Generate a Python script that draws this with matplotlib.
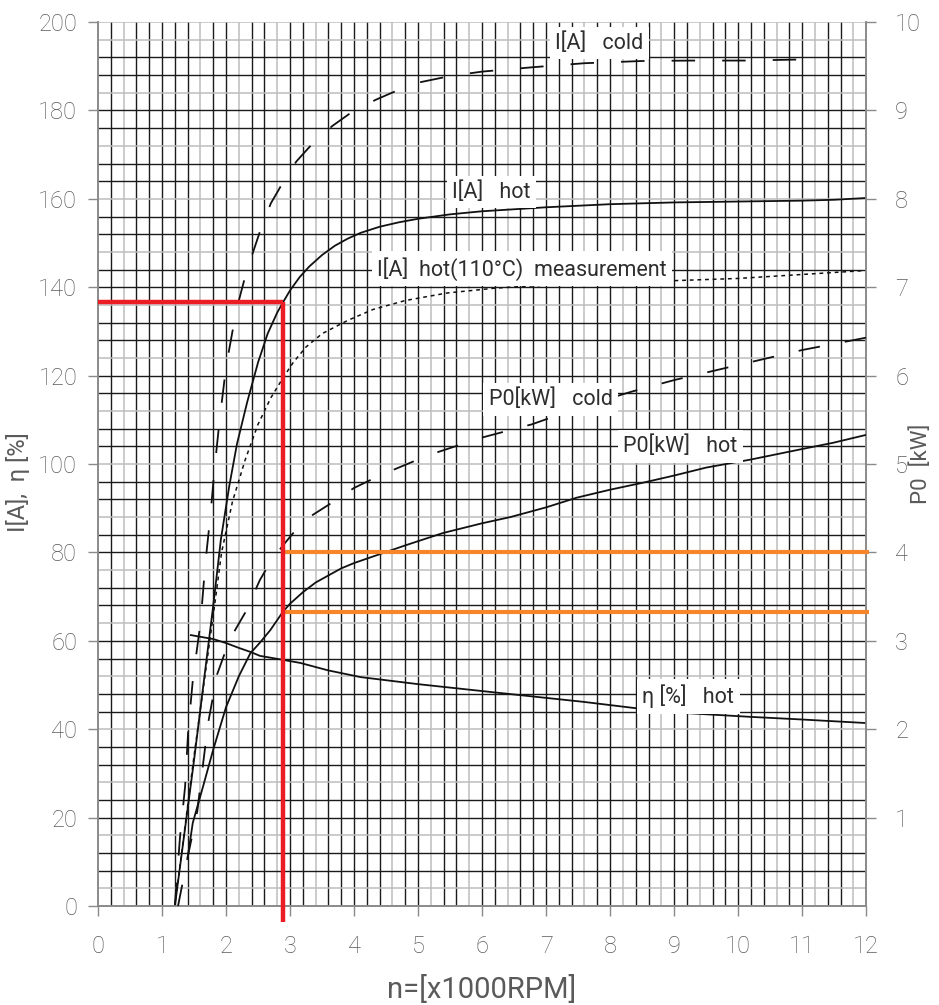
import numpy as np
import matplotlib
matplotlib.use("Agg")
import matplotlib.pyplot as plt

# ---------------- data ----------------
# I[A] cold (dashed)
i_cold_x = [1.20, 1.28, 1.36, 1.41, 1.48, 1.60, 1.68, 1.76, 1.82, 1.90, 2.00, 2.10, 2.20, 2.30, 2.40, 2.55, 2.70, 2.90, 3.10, 3.35, 3.66, 4.00, 4.35, 4.70, 5.00, 5.50, 6.00, 6.80, 7.60, 8.50, 9.30, 10.10, 11.20]
i_cold_y = [0.0, 15.5, 27.0, 40.0, 51.0, 64.0, 78.0, 89.0, 99.0, 110.0, 122.0, 130.0, 137.0, 142.5, 147.0, 153.5, 159.0, 164.0, 168.5, 172.5, 176.5, 180.0, 182.5, 184.7, 186.3, 187.8, 188.8, 189.8, 190.7, 191.2, 191.3, 191.3, 191.6]
# I[A] hot (solid)
i_hot_x = [1.20, 1.50, 1.80, 1.92, 2.05, 2.17, 2.33, 2.50, 2.65, 2.80, 2.89, 3.00, 3.15, 3.30, 3.50, 3.70, 3.90, 4.10, 4.40, 4.70, 5.00, 5.50, 6.00, 7.00, 8.00, 9.00, 10.00, 11.00, 11.50, 12.00]
i_hot_y = [0.0, 33.0, 68.0, 83.0, 95.0, 104.5, 114.0, 123.0, 129.5, 134.3, 136.6, 139.3, 142.3, 144.7, 147.3, 149.4, 151.0, 152.3, 153.7, 154.7, 155.5, 156.5, 157.2, 158.1, 158.8, 159.2, 159.4, 159.6, 159.8, 160.2]
# I[A] hot(110°C) measurement (dotted)
i_meas_x = [1.20, 1.50, 1.83, 1.93, 2.10, 2.30, 2.50, 2.70, 2.89, 3.05, 3.25, 3.50, 3.90, 4.30, 4.80, 5.45, 6.20, 7.00, 8.00, 9.00, 10.00, 11.00, 12.00]
i_meas_y = [0.0, 34.0, 69.0, 80.0, 91.5, 101.0, 109.0, 115.0, 119.5, 123.0, 126.5, 129.5, 132.5, 135.0, 137.0, 138.7, 139.8, 140.5, 141.0, 141.5, 142.0, 142.9, 143.8]
# P0[kW] cold (dashed, right axis)
p_cold_x = [1.25, 1.40, 1.55, 1.72, 1.86, 2.00, 2.14, 2.30, 2.53, 2.70, 2.89, 3.05, 3.30, 3.67, 4.00, 4.40, 5.16, 6.00, 6.78, 7.56, 8.34, 9.00, 10.00, 11.00, 12.00]
p_cold_kw = [0.00, 0.55, 1.07, 2.07, 2.62, 2.90, 3.12, 3.32, 3.69, 3.90, 4.08, 4.22, 4.40, 4.57, 4.73, 4.87, 5.10, 5.30, 5.45, 5.65, 5.82, 5.95, 6.12, 6.29, 6.43]
# P0[kW] hot (solid, right axis)
p_hot_x = [1.40, 1.48, 1.64, 1.80, 2.00, 2.20, 2.38, 2.53, 2.69, 2.89, 3.00, 3.20, 3.40, 3.60, 3.80, 4.00, 4.36, 4.80, 5.39, 6.00, 6.44, 7.00, 7.48, 8.00, 8.52, 9.00, 9.50, 10.19, 11.00, 11.48, 12.00]
p_hot_kw = [0.55, 0.94, 1.35, 1.77, 2.25, 2.60, 2.86, 2.98, 3.12, 3.33, 3.42, 3.55, 3.66, 3.74, 3.82, 3.88, 3.97, 4.08, 4.22, 4.33, 4.40, 4.51, 4.62, 4.71, 4.79, 4.87, 4.96, 5.05, 5.17, 5.24, 5.33]
# eta [%] hot (solid)
eta_x = [1.45, 1.80, 2.00, 2.20, 2.38, 2.53, 2.89, 3.16, 3.60, 4.10, 5.00, 6.28, 7.58, 8.89, 10.19, 11.00, 12.00]
eta_y = [61.3, 60.4, 59.5, 58.4, 57.5, 56.6, 55.7, 55.0, 53.3, 51.8, 50.2, 48.2, 46.2, 43.9, 42.8, 42.2, 41.4]

# operating point markers
op_speed = 2.89
op_current = 136.6
op_power_kw = [4.0, 3.33]

x_ticks = list(range(0, 13))
y_ticks = list(range(0, 201, 20))
p_ticks = list(range(1, 11))

curve_labels = [
    ("I[A]   cold", 7.83, 195.3),
    ("I[A]   hot", 6.15, 161.6),
    ("I[A]  hot(110°C)  measurement", 6.62, 144.2),
    ("P0[kW]   cold", 7.07, 114.6),
    ("P0[kW]   hot", 9.10, 104.0),
    ("η [%]   hot", 9.22, 47.4),
]

# ---------------- drawing ----------------
FONT = ['Roboto', 'DejaVu Sans']
plt.rcParams['font.family'] = FONT
plt.rcParams['font.weight'] = 'light'
TXT = '#5a5a5a'

fig = plt.figure(figsize=(9.39, 10.05), dpi=100)
ax = fig.add_axes([0.1044, 0.0985, 0.8180, 0.8795])
ax.set_xlim(0, 12)
ax.set_ylim(0, 200)

# millimetre-paper style grid
vx = np.arange(0.2, 12.0, 0.2)
for k, xv in enumerate(vx):
    light = (k % 3 == 1) and (abs(xv - round(xv)) > 1e-6)
    ax.axvline(xv, color='#bdbdbd' if light else '#1a1a1a',
               lw=1.1 if light else 1.0, zorder=0.5)
hy = np.arange(4, 200, 4)
for k, yv in enumerate(hy):
    light = (k % 3 == 0)
    ax.axhline(yv, color='#bdbdbd' if light else '#1a1a1a',
               lw=1.1 if light else 1.0, zorder=0.5)
ax.axhline(200, color='#bdbdbd', lw=1.1, zorder=0.5)

for s in ['left', 'bottom', 'top', 'right']:
    ax.spines[s].set_color('#8a8a8a')
    ax.spines[s].set_linewidth(1.2)
ax.spines['top'].set_visible(False)

lw = 1.3
ax.plot(i_cold_x, i_cold_y, color='#111111', lw=lw, ls=(0, (13, 15)), zorder=3)
ax.plot(i_hot_x, i_hot_y, color='#111111', lw=lw, zorder=3)
ax.plot(i_meas_x, i_meas_y, color='#111111', lw=1.1, ls=(0, (2.5, 2.5)), zorder=3)
ax.plot(eta_x, eta_y, color='#111111', lw=lw, zorder=3)

ax.set_xticks(x_ticks)
ax.set_yticks(y_ticks)
ax.tick_params(axis='both', direction='out', length=7, width=1.0, color='#8a8a8a',
               labelsize=17, labelcolor=TXT, pad=8)
ax.tick_params(axis='x', pad=14)
ax.set_xlabel('n=[x1000RPM]', fontsize=21, color=TXT)
ax.xaxis.set_label_coords(0.5, -0.078)
ax.set_ylabel('I[A],  η [%]', fontsize=17, color=TXT)
ax.yaxis.set_label_coords(-0.088, 0.48)

ax2 = ax.twinx()
ax2.set_ylim(0, 10)
ax2.set_yticks(p_ticks)
ax2.tick_params(axis='y', direction='out', length=7, width=1.0, color='#8a8a8a',
                labelsize=17, labelcolor=TXT, pad=14)
for s in ['left', 'bottom', 'top', 'right']:
    ax2.spines[s].set_color('#8a8a8a')
    ax2.spines[s].set_linewidth(1.2)
ax2.spines['top'].set_visible(False)
ax2.set_ylabel('P0  [kW]', fontsize=16, color=TXT)
ax2.yaxis.set_label_coords(1.058, 0.5)

ax2.plot(p_cold_x, p_cold_kw, color='#111111', lw=lw, ls=(0, (12, 14)), zorder=3)
ax2.plot(p_hot_x, p_hot_kw, color='#111111', lw=lw, zorder=3)

# operating point lines
red = '#ec1c24'
orange = '#f7862a'
ax2.plot([0, op_speed], [op_current / 20, op_current / 20], color=red, lw=3.2,
         solid_capstyle='butt', zorder=5)
ax2.plot([op_speed, op_speed], [op_current / 20, -0.18], color=red, lw=3.2,
         solid_capstyle='butt', zorder=5, clip_on=False)
for p in op_power_kw:
    ax2.plot([op_speed, 12.05], [p, p], color=orange, lw=3.0,
             solid_capstyle='butt', zorder=4, clip_on=False)

# curve labels in white boxes
for txt, xv, yv in curve_labels:
    ax2.text(xv, yv / 20, txt, fontsize=15.5, color='#2e2e2e', ha='center', va='center',
             fontweight='normal', zorder=6,
             bbox=dict(boxstyle='square,pad=0.25', fc='white', ec='none'))

fig.savefig('out.png', dpi=100)
